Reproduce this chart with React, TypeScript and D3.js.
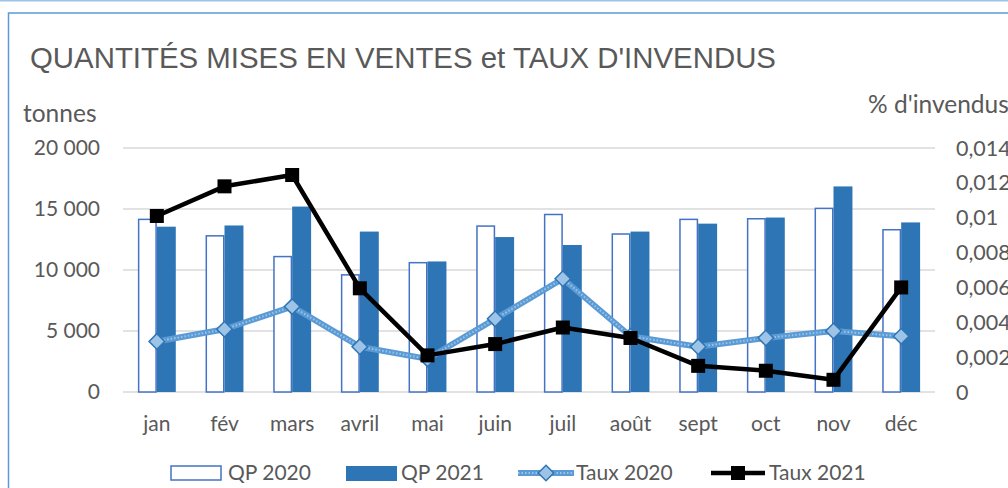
import React from 'react';
import * as d3 from 'd3';

const months = ['jan', 'fév', 'mars', 'avril', 'mai', 'juin', 'juil', 'août', 'sept', 'oct', 'nov', 'déc'];
const qp2020 = [14150, 12800, 11100, 9600, 10600, 13600, 14550, 12950, 14150, 14200, 15050, 13300];
const qp2021 = [13550, 13650, 15200, 13150, 10700, 12700, 12050, 13150, 13800, 14300, 16850, 13900];
const taux2020 = [0.0029, 0.0036, 0.0049, 0.0026, 0.0019, 0.0042, 0.0065, 0.0032, 0.0026, 0.0031, 0.0035, 0.0032];
const taux2021 = [0.0101, 0.0118, 0.01245, 0.00595, 0.0021, 0.00275, 0.0037, 0.0031, 0.0015, 0.00122, 0.0007, 0.006];
const leftTicks = [0, 5000, 10000, 15000, 20000];
const rightTicks = [0, 0.002, 0.004, 0.006, 0.008, 0.01, 0.012, 0.014];

const W = 1008, H = 488;
const plot = { left: 123, right: 935, top: 148, bottom: 392 };
const grey = '#595959';
const axisFont = 'Lato, "Noto Sans", sans-serif';

const fr = d3.formatLocale({ decimal: ',', thousands: '\u2009', grouping: [3], currency: ['', ' €'] });
const fmtLeft = (d: number) => fr.format(',')(d).replace('\u2009', ' ');
const fmtRight = (d: number) => (d === 0 ? '0' : String(+d.toFixed(3)).replace('.', ','));

export default function App() {
  const x0 = d3.scaleBand<string>().domain(months).range([plot.left, plot.right]).paddingInner(0.44).paddingOuter(0.22);
  const x1 = d3.scaleBand<string>().domain(['2020', '2021']).range([0, x0.bandwidth()]);
  const yL = d3.scaleLinear().domain([0, 20000]).range([plot.bottom, plot.top]);
  const yR = d3.scaleLinear().domain([0, 0.014]).range([plot.bottom, plot.top]);
  const cx = (m: string) => (x0(m) as number) + x0.bandwidth() / 2;

  const line = d3.line<number>()
    .x((d, i) => cx(months[i]))
    .y(d => yR(d));

  return (
    <svg width={W} height={H} style={{ position: 'absolute', left: 0, top: 0, background: '#fff' }}>
      <line x1={0} x2={W} y1={0.5} y2={0.5} stroke="#9dc3e6" strokeWidth={2} />
      <rect x={8.5} y={13} width={W + 10} height={H + 10} fill="#fff" stroke="#5b9bd5" strokeWidth={1.5} />

      <text x={30} y={68} fontFamily='"Liberation Sans", Arial, sans-serif' fontSize={29.4} fill={grey}>
        QUANTITÉS MISES EN VENTES et TAUX D'INVENDUS
      </text>
      <text x={23} y={122} fontFamily={axisFont} fontSize={24.5} fill={grey}>tonnes</text>
      <text x={868} y={113} fontFamily={axisFont} fontSize={24.5} fill={grey}>% d'invendus</text>

      {leftTicks.map(t => (
        <g key={'l' + t}>
          <line x1={plot.left} x2={plot.right} y1={yL(t)} y2={yL(t)} stroke="#d9d9d9" strokeWidth={1.5} />
          <text x={100} y={yL(t)} dy="0.35em" textAnchor="end" fontFamily={axisFont} fontSize={21} fill={grey}>
            {fmtLeft(t)}
          </text>
        </g>
      ))}
      {rightTicks.map(t => (
        <text key={'r' + t} x={956} y={yR(t)} dy="0.35em" fontFamily={axisFont} fontSize={21.5} fill={grey}>
          {fmtRight(t)}
        </text>
      ))}

      {months.map((m, i) => (
        <g key={m}>
          <rect x={(x0(m) as number) + (x1('2020') as number) + 0.75} y={yL(qp2020[i])}
            width={x1.bandwidth() - 1.5} height={yL(0) - yL(qp2020[i])}
            fill="#fff" stroke="#4472c4" strokeWidth={1.5} />
          <rect x={(x0(m) as number) + (x1('2021') as number)} y={yL(qp2021[i])}
            width={x1.bandwidth()} height={yL(0) - yL(qp2021[i])} fill="#2e75b6" />
          <text x={cx(m)} y={431} textAnchor="middle" fontFamily={axisFont} fontSize={21} fill={grey}>{m}</text>
        </g>
      ))}

      <path d={line(taux2020) as string} fill="none" stroke="#5b9bd5" strokeWidth={6} strokeLinejoin="round" />
      <path d={line(taux2020) as string} fill="none" stroke="#9dc3e6" strokeWidth={2} strokeDasharray="1.5 2" />
      {taux2020.map((v, i) => (
        <rect key={'d' + i} x={-5.5} y={-5.5} width={11} height={11}
          transform={`translate(${cx(months[i])},${yR(v)}) rotate(45)`}
          fill="#9dc3e6" stroke="#2e75b6" strokeWidth={1.5} />
      ))}

      <path d={line(taux2021) as string} fill="none" stroke="#000" strokeWidth={4.5} strokeLinejoin="round" />
      {taux2021.map((v, i) => (
        <rect key={'s' + i} x={cx(months[i]) - 7} y={yR(v) - 7} width={14} height={14} fill="#000" />
      ))}

      {/* legend */}
      <g fontFamily={axisFont} fontSize={21} fill={grey}>
        <rect x={171} y={466} width={50} height={14} fill="#fff" stroke="#4472c4" strokeWidth={1.5} />
        <text x={228} y={480}>QP 2020</text>
        <rect x={346} y={466} width={51} height={15} fill="#2e75b6" />
        <text x={401} y={480}>QP 2021</text>
        <line x1={518} x2={574} y1={473} y2={473} stroke="#5b9bd5" strokeWidth={6} />
        <line x1={518} x2={574} y1={473} y2={473} stroke="#9dc3e6" strokeWidth={2} strokeDasharray="1.5 2" />
        <rect x={-5.5} y={-5.5} width={11} height={11} transform="translate(546,473) rotate(45)"
          fill="#9dc3e6" stroke="#2e75b6" strokeWidth={1.5} />
        <text x={576} y={480}>Taux 2020</text>
        <line x1={711} x2={765} y1={473} y2={473} stroke="#000" strokeWidth={4.5} />
        <rect x={731} y={466} width={14} height={14} fill="#000" />
        <text x={769} y={480}>Taux 2021</text>
      </g>
    </svg>
  );
}
